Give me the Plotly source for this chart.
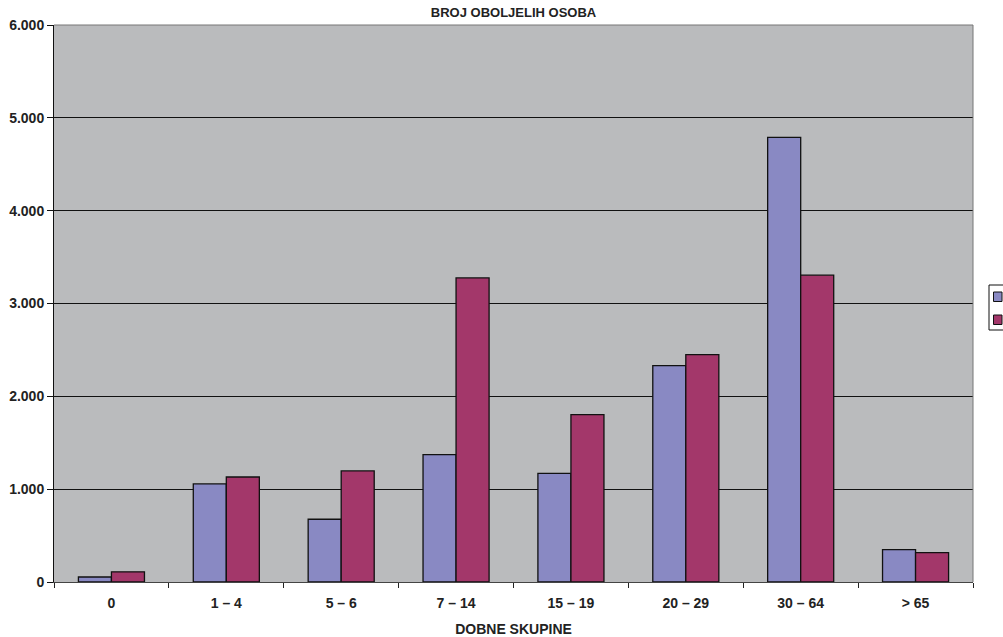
import plotly.graph_objects as go

categories = ["0", "1 – 4", "5 – 6", "7 – 14", "15 – 19", "20 – 29", "30 – 64", "> 65"]
series1_name = "Niz1"
series2_name = "Niz2"
series1 = [54, 1056, 676, 1372, 1171, 2331, 4790, 348]
series2 = [110, 1131, 1196, 3276, 1803, 2449, 3305, 316]
y_ticks = [0, 1000, 2000, 3000, 4000, 5000, 6000]

BLUE = "#8989C3"
RED = "#A3376A"
FONT = "Liberation Sans, Arial, sans-serif"

fig = go.Figure()
fig.add_trace(go.Bar(x=categories, y=series1, name=series1_name,
                     marker=dict(color=BLUE, line=dict(color="#111111", width=1.3))))
fig.add_trace(go.Bar(x=categories, y=series2, name=series2_name,
                     marker=dict(color=RED, line=dict(color="#111111", width=1.3))))

fig.update_layout(
    width=1003, height=637,
    margin=dict(l=54, r=30, t=25, b=55, autoexpand=False),
    paper_bgcolor="white",
    plot_bgcolor="#BABBBD",
    separators=",.",
    barmode="group",
    bargap=0.425,
    bargroupgap=0,
    font=dict(family=FONT, size=14, color="#222222"),
    title=dict(text="BROJ OBOLJELIH OSOBA", x=0.512, xanchor="center",
               y=0.981, yanchor="middle", yref="container",
               font=dict(family=FONT, size=13, color="#222222", weight="bold")),
    showlegend=False,
)

fig.update_xaxes(
    type="category",
    showgrid=False,
    showline=True, linecolor="#444444", linewidth=1,
    ticks="outside", tickson="boundaries", ticklen=5, tickcolor="#222222",
    tickfont=dict(family=FONT, size=14, color="#222222", weight="bold"),
    ticklabelstandoff=8,
    title=dict(text="DOBNE SKUPINE", standoff=14,
               font=dict(family=FONT, size=14, color="#222222", weight="bold")),
)
fig.update_yaxes(
    range=[0, 6000],
    tickvals=y_ticks,
    tickformat=",d",
    showgrid=True, gridcolor="#111111", gridwidth=1,
    showline=True, linecolor="#111111", linewidth=1,
    ticks="outside", ticklen=6, tickcolor="#111111",
    ticklabelstandoff=0,
    tickfont=dict(family=FONT, size=14, color="#222222", weight="bold"),
    zeroline=False,
)

# thin gray frame on top / right of plot area
fig.add_shape(type="line", xref="paper", yref="paper", x0=0, x1=1, y0=1, y1=1,
              line=dict(color="#777777", width=1))
fig.add_shape(type="line", xref="paper", yref="paper", x0=1, x1=1, y0=0, y1=1,
              line=dict(color="#777777", width=1))

# legend box (text cut off at the page edge, as in the original)
def px_x(p):
    return (p - 54) / 919.0

def px_y(p):
    return (582 - p) / 557.0

fig.add_shape(type="rect", xref="paper", yref="paper",
              x0=px_x(989), x1=px_x(1020), y0=px_y(330), y1=px_y(285),
              line=dict(color="#111111", width=1), fillcolor="white")
fig.add_shape(type="rect", xref="paper", yref="paper",
              x0=px_x(993.5), x1=px_x(1002), y0=px_y(301.5), y1=px_y(292),
              line=dict(color="#111111", width=1), fillcolor=BLUE)
fig.add_shape(type="rect", xref="paper", yref="paper",
              x0=px_x(993.5), x1=px_x(1002), y0=px_y(324.5), y1=px_y(315),
              line=dict(color="#111111", width=1), fillcolor=RED)

fig.write_html("out.html", config={"displayModeBar": False},
               post_script="document.body.style.margin='0';document.body.style.overflow='hidden';")
